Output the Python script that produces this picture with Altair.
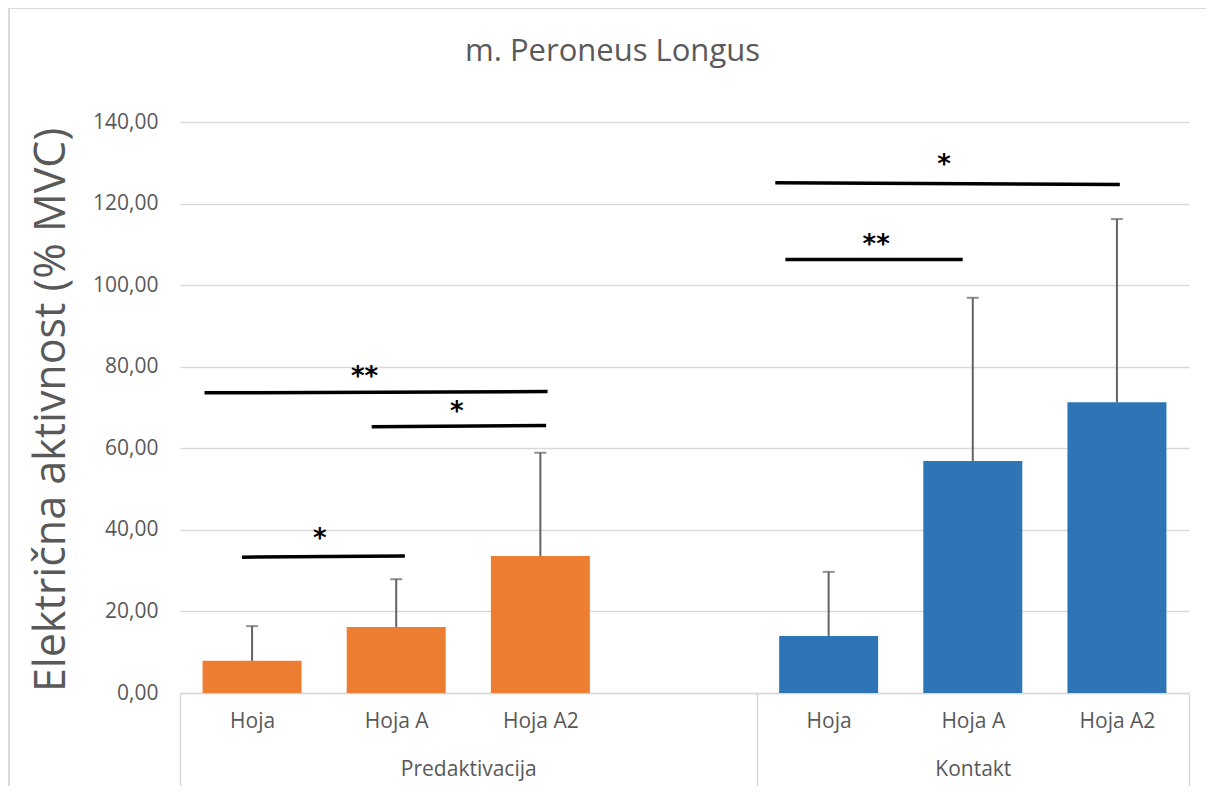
import altair as alt
import pandas as pd

# ---- data ----
groups = ["Predaktivacija", "Predaktivacija", "Predaktivacija", "Kontakt", "Kontakt", "Kontakt"]
conditions = ["Hoja", "Hoja A", "Hoja A2", "Hoja", "Hoja A", "Hoja A2"]
means = [7.9, 16.2, 33.6, 14.0, 56.9, 71.3]
upper = [16.4, 27.9, 58.9, 29.7, 96.9, 116.2]
colors = ["#ED7D31", "#ED7D31", "#ED7D31", "#2E75B6", "#2E75B6", "#2E75B6"]

group_names = ["Predaktivacija", "Kontakt"]
group_start = [0, 4]          # slot where each group begins (an empty slot follows Predaktivacija)
group_end = [4, 7]

# significance brackets (x in category-slot units, y in % MVC)
sig_x1 = [0.17, 1.33, 0.43, 4.13, 4.20]
sig_x2 = [2.55, 2.54, 1.56, 6.52, 5.43]
sig_y1 = [73.6, 65.3, 33.3, 125.1, 106.3]
sig_y2 = [73.9, 65.6, 33.6, 124.7, 106.3]
sig_label = ["**", "*", "*", "*", "**"]
sig_lx = [1.28, 1.92, 0.97, 5.30, 4.83]
sig_ly = [77.5, 69.0, 37.8, 129.5, 109.8]

# ---- table ----
slot = []
for g, c in zip(groups, conditions):
    base = group_start[group_names.index(g)]
    slot.append(base + ["Hoja", "Hoja A", "Hoja A2"].index(c) + 0.5)

bars = pd.DataFrame({"group": groups, "cond": conditions, "mean": means,
                     "upper": upper, "color": colors, "slot": slot})
sig = pd.DataFrame({"x1": sig_x1, "x2": sig_x2, "y1": sig_y1, "y2": sig_y2,
                    "label": sig_label, "lx": sig_lx, "ly": sig_ly})

FONT = "Open Sans"
GREY = "#595959"
W, H = 1009, 571

xscale = alt.Scale(domain=[0, 7], nice=False, zero=False, padding=0)
yscale = alt.Scale(domain=[0, 140], nice=False)

cond_expr = ("datum.value == 0.5 || datum.value == 4.5 ? 'Hoja' : "
             "datum.value == 1.5 || datum.value == 5.5 ? 'Hoja A' : 'Hoja A2'")

y_axis = alt.Axis(
    values=[0, 20, 40, 60, 80, 100, 120, 140],
    labelExpr="replace(format(datum.value, '.2f'), '.', ',')",
    labelFont=FONT, labelFontSize=21, labelColor=GREY, labelPadding=22,
    ticks=False, domain=False, grid=True, gridColor="#D9D9D9", gridWidth=1.3,
    title="Električna aktivnost (% MVC)", titleFont=FONT, titleFontSize=43,
    titleFontWeight="normal", titleColor=GREY, titleX=-129, titleY=H / 2 + 2,
    titleAngle=-90, titleAlign="center", titleBaseline="middle",
)

x_axis_main = alt.Axis(
    orient="bottom",
    values=[0.5, 1.5, 2.5, 4.5, 5.5, 6.5], labelExpr=cond_expr,
    labelFont=FONT, labelFontSize=21, labelColor=GREY, labelPadding=17,
    ticks=False, domain=True, domainColor="#D9D9D9", domainWidth=1.5,
    grid=False, title=None,
)

bar_layer = alt.Chart(bars).mark_bar(size=99).encode(
    x=alt.X("slot:Q", scale=xscale, axis=x_axis_main),
    y=alt.Y("mean:Q", scale=yscale, axis=y_axis),
    color=alt.Color("color:N", scale=None),
)

err_layer = alt.Chart(bars).mark_rule(color="#636363", strokeWidth=2).encode(
    x=alt.X("slot:Q", axis=None), y="mean:Q", y2="upper:Q",
)
cap_layer = alt.Chart(bars).mark_tick(color="#636363", orient="horizontal",
                                      size=12, thickness=2).encode(
    x=alt.X("slot:Q", axis=None), y="upper:Q",
)

# group separators (long ticks under the axis) and group labels
sep_df = pd.DataFrame({"pos": [0, 4, 7]})
sep_layer = alt.Chart(sep_df).mark_point(opacity=0).encode(
    x=alt.X("pos:Q", axis=alt.Axis(orient="bottom", values=[0, 4, 7], labels=False,
                                   ticks=True, tickSize=95, tickColor="#D9D9D9",
                                   tickWidth=1.5, domain=False, grid=False, title=None)),
)
grp_df = pd.DataFrame({"name": group_names,
                       "mid": [(s + e) / 2 for s, e in zip(group_start, group_end)]})
grp_layer = alt.Chart(grp_df).mark_point(opacity=0).encode(
    x=alt.X("mid:Q", axis=alt.Axis(orient="bottom", values=[2, 5.5],
                                   labelExpr="datum.value == 2 ? 'Predaktivacija' : 'Kontakt'",
                                   labelFont=FONT, labelFontSize=21, labelColor=GREY,
                                   labelPadding=65, ticks=False, domain=False,
                                   grid=False, title=None)),
)

sig_lines = alt.Chart(sig).mark_rule(color="black", strokeWidth=3.5).encode(
    x=alt.X("x1:Q", axis=None), x2="x2:Q", y="y1:Q", y2="y2:Q",
)
sig_text = alt.Chart(sig).mark_text(font="DejaVu Sans", fontSize=26, fontWeight="bold",
                                    color="black", baseline="middle").encode(
    x=alt.X("lx:Q", axis=None), y="ly:Q", text="label:N",
)

border = alt.Chart(grp_df.head(1)).mark_rect(fill=None, stroke="#D9D9D9", strokeWidth=2).encode(
    x=alt.value(-171), x2=alt.value(1045), y=alt.value(-114), y2=alt.value(680),
)

chart = alt.layer(
    border, bar_layer, err_layer, cap_layer, sep_layer, grp_layer, sig_lines, sig_text
).resolve_axis(x="independent").properties(
    width=W, height=H,
    title=alt.TitleParams("m. Peroneus Longus", font=FONT, fontSize=31,
                          fontWeight="normal", color=GREY, offset=-61, dx=-72,
                          frame="group", anchor="middle"),
    autosize=alt.AutoSizeParams(type="none"),
    padding={"left": 172, "top": 114, "right": 17, "bottom": 93},
).configure_view(stroke=None)

chart.save("out.html", embed_options={"renderer": "svg", "actions": False})
